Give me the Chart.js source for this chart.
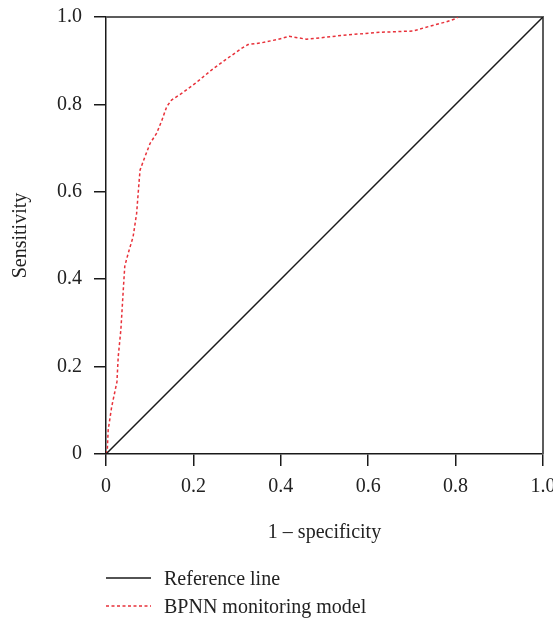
<!DOCTYPE html>
<html>
<head>
<meta charset="utf-8">
<script src="https://cdn.jsdelivr.net/npm/chart.js@4.4.1/dist/chart.umd.min.js"></script>
<style>
  html,body{margin:0;padding:0;background:#fff;overflow:hidden;}
  #wrap{width:566px;height:620px;}
</style>
</head>
<body>
<div id="wrap"><canvas id="roc"></canvas></div>
<script>
// curva ROC
const refX = [0, 1];
const refY = [0, 1];
const bpnnX = [0, 0.003, 0.005, 0.013, 0.021, 0.025, 0.028, 0.034, 0.04, 0.043, 0.051, 0.062, 0.07, 0.076, 0.078, 0.089, 0.101, 0.116, 0.128, 0.139, 0.15, 0.173, 0.204, 0.242, 0.279, 0.31, 0.325, 0.356, 0.394, 0.419, 0.459, 0.551, 0.627, 0.703, 0.741, 0.779, 0.802, 0.805];
const bpnnY = [0, 0.01, 0.055, 0.108, 0.146, 0.165, 0.223, 0.284, 0.383, 0.43, 0.46, 0.497, 0.55, 0.627, 0.65, 0.68, 0.711, 0.734, 0.764, 0.795, 0.81, 0.825, 0.848, 0.879, 0.906, 0.928, 0.937, 0.941, 0.949, 0.956, 0.949, 0.959, 0.965, 0.968, 0.979, 0.989, 0.997, 1.0];
const tickVals = [0, 0.2, 0.4, 0.6, 0.8, 1.0];
const serieNames = ['Reference line', 'BPNN monitoring model'];

const FONT = 'Liberation Serif';
const pts = (xs, ys) => xs.map((x, i) => ({x, y: ys[i]}));
const fmt = v => v === 0 ? '0' : Number(v).toFixed(1);

// bordes superior y derecho del area
const marco = {
  id: 'marco',
  beforeDatasetsDraw(chart){
    const {ctx, chartArea: a} = chart;
    ctx.save();
    ctx.strokeStyle = '#5c5c5c';
    ctx.lineWidth = 2;
    ctx.beginPath();
    ctx.moveTo(a.left, a.top);
    ctx.lineTo(a.right, a.top);
    ctx.lineTo(a.right, a.bottom);
    ctx.stroke();
    ctx.restore();
  }
};

// leyenda vertical abajo a la izquierda
const leyenda = {
  id: 'leyenda',
  afterDraw(chart){
    const {ctx, chartArea: a} = chart;
    ctx.save();
    ctx.font = '20px "' + FONT + '"';
    ctx.textBaseline = 'alphabetic';
    chart.data.datasets.forEach((ds, i) => {
      const y = 578 + i * 28;
      ctx.strokeStyle = ds.borderColor;
      ctx.lineWidth = ds.borderWidth;
      ctx.setLineDash(ds.borderDash || []);
      ctx.beginPath();
      ctx.moveTo(a.left, y);
      ctx.lineTo(a.left + 45, y);
      ctx.stroke();
      ctx.fillStyle = '#222';
      ctx.fillText(ds.label, a.left + 58, y + 7);
    });
    ctx.restore();
  }
};

new Chart(document.getElementById('roc'), {
  type: 'line',
  data: {
    datasets: [
      {label: serieNames[0], data: pts(refX, refY), borderColor: '#1a1a1a', borderWidth: 1.5, pointRadius: 0, tension: 0},
      {label: serieNames[1], data: pts(bpnnX, bpnnY), borderColor: '#e8313a', borderWidth: 1.5, borderDash: [3, 2.5], pointRadius: 0, tension: 0}
    ]
  },
  options: {
    responsive: true,
    maintainAspectRatio: false,
    animation: false,
    layout: {padding: {left: 0, right: 23, top: 17, bottom: 66}},
    plugins: {legend: {display: false}, tooltip: {enabled: false}},
    scales: {
      x: {
        type: 'linear', min: 0, max: 1,
        afterFit: s => { s.height = 100; s.paddingLeft = 0; s.paddingRight = 0; },
        afterBuildTicks: s => { s.ticks = tickVals.map(v => ({value: v})); },
        border: {color: '#1a1a1a', width: 1.5},
        grid: {drawOnChartArea: false, tickLength: 12, tickColor: '#1a1a1a', lineWidth: 1.5},
        ticks: {padding: 9, color: '#222', font: {family: FONT, size: 20}, callback: fmt, maxRotation: 0},
        title: {display: true, text: '1 – specificity', color: '#222', font: {family: FONT, size: 20}, padding: {top: 0, bottom: 9}}
      },
      y: {
        type: 'linear', min: 0, max: 1,
        afterFit: s => { s.width = 106; s.paddingTop = 0; s.paddingBottom = 0; },
        afterBuildTicks: s => { s.ticks = tickVals.map(v => ({value: v})); },
        border: {color: '#1a1a1a', width: 1.5},
        grid: {drawOnChartArea: false, tickLength: 12, tickColor: '#1a1a1a', lineWidth: 1.5},
        ticks: {padding: 12, color: '#222', font: {family: FONT, size: 20}, callback: fmt},
        title: {display: true, text: 'Sensitivity', color: '#222', font: {family: FONT, size: 20}, padding: {top: 9, bottom: 0}}
      }
    }
  },
  plugins: [marco, leyenda]
});
</script>
</body>
</html>
